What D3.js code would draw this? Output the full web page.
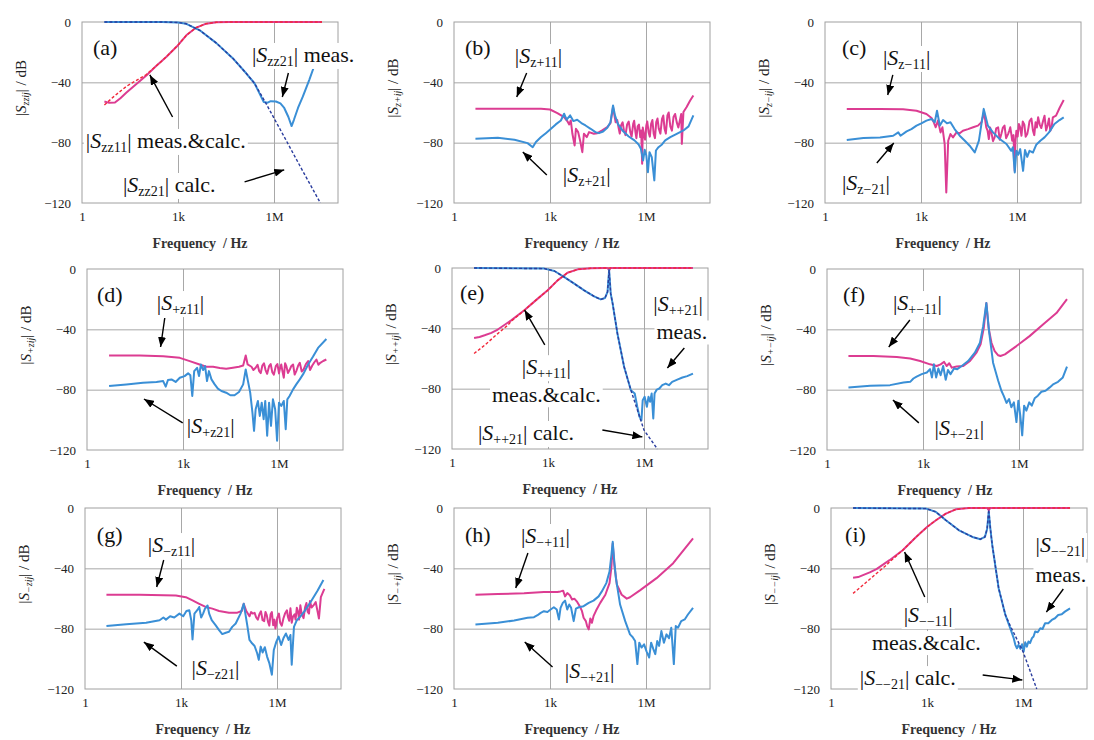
<!DOCTYPE html>
<html>
<head>
<meta charset="utf-8">
<script src="https://cdn.jsdelivr.net/npm/d3@7"></script>
<style>
body { margin: 0; background: #fff; }
svg, svg text { font-family: "Liberation Serif", "Times New Roman", Times, "DejaVu Serif", serif; }
text { white-space: pre; }
</style>
</head>
<body>
<div id="c"></div>
<script>
"use strict";

const serif = '"Liberation Serif", "Times New Roman", Times, "DejaVu Serif", serif'

// axis values
const xTickVals = [1, 1e3, 1e6]
const xTickText = ['1', '1k', '1M']
const yTickVals = [0, -40, -80, -120]
const xGridVals = [1e3, 1e6]
const yGridVals = [-40, -80]

// series: [log10(f / Hz), dB]
// (a)
const aS11meas = [[0.70,-52.7],[0.85,-53.6],[1.03,-53.4],[1.2,-50.5],[1.39,-46.8],[1.6,-43],[2.01,-35.5],[2.3,-29.5],[2.64,-23],[3.0,-15.4],[3.26,-8.8],[3.57,-3.7],[3.88,-1.1],[4.2,-0.2],[4.6,0],[7.5,0]]
const aS11calc = [[0.70,-55],[1.0,-49.3],[1.4,-42.5],[2.0,-35],[2.3,-29.5],[2.64,-23],[3.0,-15.4],[3.26,-8.8],[3.57,-3.7],[3.88,-1.1],[4.2,-0.2],[4.6,0],[7.5,0]]
const aS21meas = [[0.7,0],[2.5,0],[3.0,-0.3],[3.26,-1.2],[3.68,-5.5],[4.2,-14],[4.71,-24],[5.13,-34],[5.39,-40.6],[5.55,-47.5],[5.68,-53],[5.8,-53.5],[5.9,-52.5],[6.06,-52.7],[6.2,-54],[6.32,-57],[6.45,-63],[6.55,-69],[6.62,-65],[6.75,-57],[6.9,-49.5],[7.1,-38.5],[7.26,-29]]
const aS21calc = [[0.7,0],[2.5,0],[3.0,-0.3],[3.26,-1.2],[3.68,-5.5],[4.2,-14],[4.71,-24],[5.13,-34],[5.39,-40.6],[5.75,-54],[6.38,-78.5],[6.8,-95],[7.45,-120]]
// (b)
const bS11 = [[0.67,-57.5],[1.89,-57.5],[2.72,-57.5],[3.0,-58],[3.23,-60.4],[3.44,-63],[3.54,-65.7],[3.6,-67.9],[3.65,-65.3],[3.7,-74.1],[3.77,-81.9],[3.81,-70.8],[3.88,-73],[3.94,-78.5],[4.01,-86.3],[4.06,-74.1],[4.15,-76.3],[4.22,-73],[4.37,-74.1],[4.48,-73.7],[4.63,-71.9],[4.79,-69.7],[4.89,-67],[4.97,-56.4],[5.05,-66.4],[5.1,-65],[5.15,-70.8],[5.18,-74],[5.22,-68.6],[5.27,-66.5],[5.31,-71.9],[5.36,-75],[5.41,-67.9],[5.46,-66],[5.51,-73],[5.55,-76],[5.6,-67.5],[5.63,-65.5],[5.67,-73],[5.7,-77],[5.74,-69.2],[5.78,-68],[5.82,-76.3],[5.85,-72],[5.88,-94],[5.9,-70],[5.93,-74.1],[5.97,-78],[6.01,-68.6],[6.04,-66],[6.08,-73],[6.12,-76],[6.16,-67.5],[6.2,-65],[6.24,-74.1],[6.28,-77],[6.32,-66.4],[6.36,-64],[6.4,-70.8],[6.45,-74],[6.5,-64.2],[6.54,-62],[6.58,-70.8],[6.62,-74],[6.67,-61.9],[6.71,-60],[6.76,-69.2],[6.81,-72],[6.86,-63],[6.91,-61],[6.96,-66.4],[7.01,-70],[7.07,-64.2],[7.1,-61],[7.12,-80.8],[7.17,-59.7],[7.27,-56.4],[7.38,-52],[7.48,-48.7]]
const bS21 = [[0.67,-77.4],[1.37,-76.8],[1.89,-78.1],[2.3,-80.3],[2.46,-83],[2.56,-79.6],[2.72,-76.3],[2.87,-73.7],[3.03,-70.8],[3.18,-67.9],[3.34,-65.3],[3.44,-60.8],[3.52,-64.8],[3.63,-61.9],[3.73,-65.7],[3.85,-64.8],[3.98,-67],[4.11,-68.6],[4.27,-70.8],[4.42,-73],[4.53,-73.7],[4.66,-72.6],[4.79,-70.1],[4.89,-66.4],[4.97,-55.3],[5.03,-61.9],[5.12,-67.5],[5.28,-72.3],[5.46,-75.9],[5.64,-78.5],[5.77,-81.2],[5.84,-84],[5.91,-91.8],[5.96,-84.7],[6.01,-88.5],[6.06,-99.6],[6.11,-86.3],[6.18,-89.6],[6.26,-105],[6.31,-85.2],[6.39,-83],[6.5,-81.2],[6.6,-78.5],[6.76,-76.3],[6.96,-74.1],[7.17,-71.9],[7.33,-69.2],[7.48,-61.9]]
// (c)
const cS11 = [[0.68,-57.6],[1.72,-57.6],[2.44,-57.9],[2.86,-58.8],[3.17,-61],[3.33,-63.6],[3.4,-66.5],[3.46,-69.8],[3.53,-65.4],[3.61,-73.2],[3.67,-69.8],[3.74,-80.9],[3.79,-113],[3.85,-78.7],[3.92,-74.3],[4.0,-76.5],[4.11,-73.2],[4.21,-73.8],[4.31,-72.1],[4.47,-71],[4.63,-69.8],[4.78,-68.7],[4.89,-66.5],[4.97,-59.9],[5.04,-69.8],[5.08,-72],[5.12,-77.6],[5.16,-70],[5.2,-73.2],[5.25,-79],[5.3,-76.5],[5.35,-70.5],[5.41,-69.8],[5.46,-78],[5.51,-74.3],[5.56,-70],[5.61,-68.7],[5.66,-77],[5.72,-74.3],[5.76,-72],[5.79,-69.8],[5.82,-74],[5.85,-78.7],[5.89,-75],[5.93,-98.7],[5.95,-80],[5.98,-72.1],[6.02,-76],[6.06,-67.6],[6.1,-70],[6.14,-75.4],[6.18,-66],[6.23,-68.1],[6.27,-76],[6.32,-74.3],[6.36,-70],[6.39,-65.9],[6.45,-64],[6.5,-72.1],[6.54,-75],[6.58,-66.5],[6.62,-70],[6.66,-63.2],[6.71,-68],[6.76,-70.3],[6.81,-66],[6.86,-62.1],[6.91,-72],[6.96,-68.1],[7.0,-64],[7.04,-72.1],[7.08,-70],[7.12,-63.2],[7.22,-62.1],[7.33,-57],[7.46,-51.7]]
const cS21 = [[0.68,-78.3],[1.2,-76.9],[1.72,-76.5],[2.13,-75.4],[2.29,-73.2],[2.36,-75.4],[2.55,-72.5],[2.7,-71],[2.86,-68.7],[3.01,-67.2],[3.17,-65.4],[3.33,-64.3],[3.43,-66.5],[3.5,-58.8],[3.59,-68.7],[3.69,-65],[3.81,-67.2],[3.92,-66.5],[4.05,-71],[4.21,-75.4],[4.37,-78.7],[4.52,-82],[4.68,-86.5],[4.81,-78.7],[4.96,-57.6],[5.09,-68.7],[5.25,-73.2],[5.46,-77.6],[5.67,-80.9],[5.82,-85.4],[5.87,-83.1],[5.93,-99.8],[5.98,-85.4],[6.04,-88],[6.1,-84.3],[6.19,-98.7],[6.25,-84.9],[6.32,-89.4],[6.39,-85.4],[6.5,-86.5],[6.6,-81.4],[6.73,-78.7],[6.86,-76.5],[7.0,-73.2],[7.17,-67.6],[7.33,-65],[7.46,-63.2]]
// (d)
const dS11 = [[0.69,-57.4],[1.65,-57.4],[2.38,-57.8],[2.9,-58.9],[3.21,-61.1],[3.52,-63.3],[3.73,-64.8],[3.94,-64.8],[4.15,-65.7],[4.35,-66.2],[4.56,-65.5],[4.75,-64.8],[4.88,-64],[4.96,-57.4],[5.02,-63.3],[5.14,-64.8],[5.2,-67],[5.27,-65.5],[5.33,-63.5],[5.38,-67.7],[5.43,-69],[5.48,-64],[5.53,-62.5],[5.58,-67],[5.63,-69.5],[5.69,-64.4],[5.74,-63],[5.79,-68.4],[5.84,-70],[5.9,-64.4],[5.95,-63],[6.0,-69.2],[6.03,-66],[6.07,-63.3],[6.11,-68],[6.15,-72.1],[6.19,-62.5],[6.23,-64.4],[6.28,-69],[6.33,-67],[6.38,-64.5],[6.44,-63.3],[6.49,-70],[6.54,-67.7],[6.6,-64],[6.65,-62.2],[6.71,-68],[6.77,-66.6],[6.84,-63],[6.91,-61.1],[6.97,-67],[7.04,-64],[7.1,-62],[7.17,-60],[7.23,-63.5],[7.29,-62.2],[7.38,-61],[7.48,-60]]
const dS21 = [[0.69,-77.6],[1.23,-76.5],[1.75,-75.4],[2.17,-74.9],[2.38,-74.3],[2.46,-78],[2.53,-73.6],[2.64,-73.2],[2.77,-74.9],[2.9,-72.1],[3.05,-71],[3.16,-69.2],[3.23,-70.5],[3.29,-84.2],[3.35,-67.7],[3.44,-65.5],[3.5,-71],[3.56,-63.3],[3.63,-67],[3.69,-64.4],[3.75,-74.3],[3.81,-67.7],[3.89,-73.2],[3.99,-76.5],[4.09,-79.3],[4.2,-80.9],[4.35,-82],[4.48,-83.7],[4.61,-83.7],[4.75,-81.5],[4.88,-76.5],[4.96,-66.6],[5.03,-74.3],[5.1,-82],[5.17,-95.2],[5.22,-107.3],[5.27,-93],[5.34,-87.5],[5.4,-97.4],[5.46,-88.6],[5.52,-99.6],[5.57,-87.5],[5.63,-110.5],[5.69,-88.6],[5.75,-104],[5.81,-86.4],[5.88,-93],[5.94,-113.8],[6.0,-88.6],[6.07,-90.8],[6.15,-87.5],[6.21,-106.2],[6.26,-86.4],[6.33,-84.2],[6.44,-79.8],[6.54,-76.5],[6.65,-73.2],[6.77,-69.2],[6.91,-63.3],[7.06,-58.2],[7.22,-52.3],[7.48,-46.4]]
// (e)
const eS11meas = [[0.69,-46.4],[0.86,-45.7],[1.02,-44.6],[1.23,-43],[1.43,-40.8],[1.85,-34.7],[2.26,-28],[2.68,-20.3],[2.99,-14.8],[3.3,-8.2],[3.61,-3.1],[3.93,-0.9],[4.34,-0.2],[4.76,0],[4.86,0],[4.91,-1.5],[4.96,0],[7.53,0]]
const eS11calc = [[0.69,-56.7],[1.02,-51.2],[1.43,-43.5],[1.74,-38],[1.85,-35.3],[2.26,-28],[2.68,-20.3],[2.99,-14.8],[3.3,-8.2],[3.61,-3.1],[3.93,-0.9],[4.34,-0.2],[4.76,0],[7.53,0]]
const eS21meas = [[0.69,0],[2.89,-0.4],[3.2,-2],[3.51,-6],[3.82,-10.4],[4.13,-14.8],[4.44,-18.8],[4.65,-20.8],[4.78,-19.9],[4.86,-15.9],[4.91,-1.5],[4.96,-17],[5.02,-23.6],[5.17,-43.5],[5.38,-65.6],[5.59,-81],[5.71,-83.2],[5.79,-92],[5.86,-98.7],[5.92,-100.9],[5.96,-87.6],[6.02,-85.4],[6.09,-92],[6.14,-85.4],[6.19,-88.7],[6.24,-83.2],[6.29,-99.8],[6.33,-83.2],[6.4,-80.6],[6.48,-79.9],[6.57,-77.7],[6.68,-76.6],[6.78,-77.7],[6.88,-75.5],[7.04,-74],[7.2,-72.6],[7.35,-71.7],[7.53,-70]]
const eS21calc = [[0.69,0],[2.89,-0.4],[3.2,-2],[3.51,-6],[3.82,-10.4],[4.13,-14.8],[4.44,-18.8],[4.65,-20.8],[4.78,-19.9],[4.86,-15.9],[4.91,-1.5],[4.96,-17],[5.02,-23.6],[5.17,-43.5],[5.38,-65.6],[5.59,-81],[6.0,-107.5],[6.42,-120]]
// (f)
const fS11 = [[0.67,-57.7],[1.45,-57.7],[2.18,-58.3],[2.6,-59.4],[2.91,-61],[3.22,-63.2],[3.43,-64.3],[3.55,-63.2],[3.66,-61.6],[3.74,-64.3],[3.82,-62.5],[3.9,-65.4],[4.05,-64.7],[4.26,-64.3],[4.47,-61],[4.67,-55.5],[4.8,-50],[4.9,-39],[4.98,-22.6],[5.05,-39],[5.14,-48.9],[5.24,-54.4],[5.35,-57.2],[5.42,-57.7],[5.56,-56.6],[5.92,-51.1],[6.33,-44.5],[6.75,-36.8],[7.17,-29.2],[7.5,-20]]
const fS21 = [[0.67,-78.5],[1.35,-77.4],[1.97,-77],[2.39,-75.2],[2.6,-74.8],[2.7,-72.6],[2.8,-71.3],[2.96,-69.7],[3.12,-68.6],[3.22,-66.4],[3.28,-71.9],[3.34,-63.2],[3.41,-71.9],[3.48,-66],[3.55,-70.4],[3.63,-64.3],[3.71,-73.5],[3.78,-66.9],[3.86,-69.7],[3.97,-66],[4.07,-66.4],[4.21,-64.3],[4.41,-61],[4.62,-55.5],[4.78,-48.9],[4.88,-37.9],[4.98,-22.6],[5.07,-42.3],[5.19,-62.1],[5.35,-74.1],[5.45,-80.7],[5.52,-84],[5.61,-88.8],[5.69,-86.2],[5.76,-91.7],[5.84,-88.4],[5.92,-101.5],[5.98,-87.3],[6.04,-97.1],[6.1,-110.3],[6.16,-90.6],[6.23,-93.9],[6.32,-88.4],[6.4,-90.6],[6.49,-85.7],[6.59,-84],[6.7,-81.4],[6.83,-80.7],[6.96,-78.5],[7.08,-76.3],[7.22,-74.8],[7.37,-71.9],[7.5,-64.7]]
// (g)
const gS11 = [[0.67,-57.5],[1.71,-57.5],[2.84,-58],[3.15,-59.1],[3.36,-61.3],[3.57,-63.5],[3.77,-65.6],[3.98,-66.7],[4.19,-68.3],[4.5,-69.4],[4.76,-69.4],[4.9,-68.3],[4.96,-63.5],[5.04,-68.3],[5.14,-71.8],[5.19,-69],[5.24,-70],[5.3,-69.5],[5.35,-72.6],[5.4,-74],[5.45,-70.5],[5.5,-68.5],[5.55,-74.4],[5.6,-75],[5.64,-68.9],[5.68,-71],[5.72,-75.5],[5.76,-78],[5.8,-70.5],[5.84,-69],[5.88,-77.7],[5.92,-74],[5.95,-79.9],[5.98,-77],[6.01,-72.6],[6.06,-70],[6.1,-76.1],[6.15,-78],[6.2,-73.3],[6.25,-70],[6.31,-67.8],[6.34,-72],[6.38,-74.8],[6.42,-66.5],[6.46,-76.1],[6.5,-72],[6.55,-70.5],[6.58,-74],[6.62,-66.1],[6.66,-69],[6.69,-74],[6.73,-64.5],[6.77,-70],[6.83,-73],[6.88,-65.6],[6.92,-63],[6.96,-68.9],[7.0,-70],[7.03,-61.7],[7.08,-66],[7.14,-64.6],[7.21,-62.4],[7.27,-68.9],[7.31,-73.3],[7.37,-59.1],[7.48,-53.6]]
const gS21 = [[0.67,-78.3],[1.29,-77],[1.91,-76.1],[2.33,-74.4],[2.45,-72.6],[2.53,-74],[2.66,-71.8],[2.79,-72.6],[2.95,-70],[3.07,-71.8],[3.17,-68.3],[3.26,-67.8],[3.32,-74.4],[3.36,-87.1],[3.42,-70],[3.52,-67.4],[3.57,-65.6],[3.63,-72.6],[3.69,-70],[3.75,-66.7],[3.83,-64.6],[3.88,-70],[3.96,-74.4],[4.08,-77.7],[4.19,-81],[4.29,-83.6],[4.4,-82.7],[4.5,-82.1],[4.6,-78.8],[4.71,-76.6],[4.86,-70],[4.96,-63.5],[5.07,-77.7],[5.14,-87.5],[5.22,-89.7],[5.3,-91.5],[5.38,-96.3],[5.43,-100.7],[5.49,-91.9],[5.55,-95.8],[5.62,-92.3],[5.69,-98.5],[5.76,-102.8],[5.84,-110.5],[5.9,-94.1],[5.98,-88.6],[6.05,-85.3],[6.13,-90.8],[6.2,-86.4],[6.28,-83.2],[6.36,-87.5],[6.42,-84.2],[6.46,-103.9],[6.53,-78.8],[6.62,-74.4],[6.72,-72.2],[6.88,-67.8],[7.08,-61.3],[7.27,-54.7],[7.45,-47.7]]
// (h)
const hS11 = [[0.67,-57.5],[1.37,-57],[2.19,-56.6],[2.81,-55.7],[3.23,-55.7],[3.33,-55.3],[3.41,-54.8],[3.47,-58.6],[3.54,-56.4],[3.62,-57.9],[3.69,-60.7],[3.76,-60.1],[3.85,-62.3],[3.93,-65.1],[4.0,-68.4],[4.05,-72.8],[4.12,-75],[4.16,-78.3],[4.21,-80.5],[4.26,-73.2],[4.31,-76.1],[4.36,-71.7],[4.44,-68],[4.57,-62.9],[4.73,-57.5],[4.86,-49.8],[4.92,-38.8],[4.96,-23.5],[5.01,-37.7],[5.09,-50.9],[5.24,-57.5],[5.4,-60.1],[5.5,-59.2],[5.81,-54.6],[6.33,-46.5],[6.85,-36.6],[7.47,-20.2]]
const hS21 = [[0.67,-77.2],[1.37,-76.1],[1.88,-74.6],[2.3,-72.8],[2.5,-72.4],[2.61,-71.1],[2.71,-69.5],[2.81,-68.4],[2.92,-68.9],[3.02,-67.3],[3.12,-65.8],[3.21,-67.3],[3.28,-73.9],[3.33,-66.2],[3.4,-62.9],[3.47,-61.4],[3.54,-67.3],[3.6,-64],[3.66,-66.2],[3.74,-75],[3.81,-66.7],[3.9,-65.8],[4.05,-65.1],[4.21,-62.9],[4.36,-61.4],[4.52,-58.6],[4.62,-55.3],[4.76,-49.8],[4.86,-42.1],[4.92,-31.1],[4.96,-22.4],[5.01,-35.5],[5.06,-46.5],[5.19,-64],[5.35,-75],[5.5,-83.8],[5.58,-85.5],[5.66,-88.2],[5.73,-103.5],[5.79,-89.3],[5.86,-92.5],[5.94,-90.4],[6.02,-95.2],[6.1,-99.1],[6.16,-89.3],[6.23,-93.6],[6.29,-96.9],[6.35,-88.2],[6.41,-91.4],[6.48,-81.6],[6.56,-89.3],[6.64,-83.8],[6.72,-86.4],[6.79,-79.4],[6.87,-103.5],[6.93,-78.3],[7.0,-79.4],[7.1,-75],[7.21,-73.9],[7.31,-70.6],[7.47,-66.2]]
// (i)
const iS11meas = [[0.69,-46.3],[0.85,-45.8],[1.0,-44.5],[1.21,-42.7],[1.42,-40.5],[1.83,-34.6],[2.24,-28],[2.66,-19.2],[3.0,-12.6],[3.28,-8.1],[3.59,-3.7],[3.9,-0.9],[4.31,0],[4.88,0],[4.93,-1.5],[4.98,0],[7.47,0]]
const iS11calc = [[0.69,-56.6],[1.0,-51.1],[1.42,-43.4],[1.73,-37.9],[1.83,-35.7],[2.24,-28],[2.66,-19.2],[3.0,-12.6],[3.28,-8.1],[3.59,-3.7],[3.9,-0.9],[4.31,0],[7.47,0]]
const iS21meas = [[0.69,0],[2.97,-0.4],[3.28,-2.6],[3.59,-8.1],[4.0,-14.8],[4.42,-19.2],[4.67,-20.7],[4.81,-19.2],[4.88,-13.7],[4.93,-2.6],[4.98,-13.7],[5.04,-24.7],[5.24,-53.3],[5.45,-70.9],[5.6,-79.7],[5.71,-86.3],[5.76,-90.7],[5.81,-93],[5.86,-90.7],[5.92,-93.4],[5.97,-90.3],[6.02,-95.2],[6.07,-89],[6.12,-91.9],[6.17,-88.5],[6.22,-89.6],[6.28,-86.3],[6.33,-85.2],[6.38,-81.9],[6.46,-82.4],[6.54,-79.7],[6.61,-80.2],[6.69,-76.4],[6.79,-76.4],[6.9,-74.2],[7.0,-73.1],[7.1,-70.9],[7.21,-70.5],[7.31,-68.7],[7.47,-66.5]]
const iS21calc = [[0.69,0],[2.97,-0.4],[3.28,-2.6],[3.59,-8.1],[4.0,-14.8],[4.42,-19.2],[4.67,-20.7],[4.81,-19.2],[4.88,-13.7],[4.93,-1],[4.98,-13.7],[5.04,-24.7],[5.24,-53.3],[5.45,-70.9],[5.6,-78],[6.0,-95.2],[6.43,-120]]

const styles = {
    pink: {stroke: '#dc3c92', width: 2, dash: null},
    blue: {stroke: '#3a8fd6', width: 2, dash: null},
    red:  {stroke: '#f2283a', width: 1.4, dash: '3,2'},
    navy: {stroke: '#2b3d9e', width: 1.4, dash: '3,2'}
}

const panels = [
    {left: 82, top: 22, ysub: 'zzij',
     lines: [[aS11meas,'pink'],[aS21meas,'blue'],[aS11calc,'red'],[aS21calc,'navy']],
     labels: [{at:[0.34,-21.9], text:'(a)'},
              {at:[5.31,-26.5], sub:'zz21', tail:' meas.'},
              {at:[0.12,-83.5], sub:'zz11', tail:' meas.&calc.'},
              {at:[1.28,-112.7], sub:'zz21', tail:' calc.'}],
     arrows: [[[6.45,-33.8],[6.26,-49.7]],[[2.83,-63],[2.12,-35.1]],[[5.08,-106],[6.32,-98]]]},
    {left: 454, top: 22, ysub: 'z+ij',
     lines: [[bS11,'pink'],[bS21,'blue']],
     labels: [{at:[0.34,-21.9], text:'(b)'},
              {at:[1.9,-27.2], sub:'z+11'},
              {at:[3.4,-106], sub:'z+21'}],
     arrows: [[[2.27,-33.8],[1.96,-49.7]],[[2.9,-101.5],[2.15,-86.2]]]},
    {left: 825, top: 22, ysub: 'z\u2212ij',
     lines: [[cS11,'pink'],[cS21,'blue']],
     labels: [{at:[0.53,-21.9], text:'(c)'},
              {at:[1.81,-28.5], sub:'z\u221211'},
              {at:[0.53,-111.4], sub:'z\u221221'}],
     arrows: [[[2.12,-35.1],[1.96,-48.4]],[[1.62,-93.5],[2.15,-80.2]]]},
    {left: 87, top: 269, ysub: '+zij',
     lines: [[dS11,'pink'],[dS21,'blue']],
     labels: [{at:[0.31,-21.9], text:'(d)'},
              {at:[2.18,-27.2], sub:'+z11'},
              {at:[3.12,-108.8], sub:'+z21'}],
     arrows: [[[2.43,-32.5],[2.3,-51.7]],[[2.99,-102],[1.78,-86.2]]]},
    {left: 452, top: 268, ysub: '++ij',
     lines: [[eS11meas,'pink'],[eS21meas,'blue'],[eS11calc,'red'],[eS21calc,'navy']],
     labels: [{at:[0.25,-21.2], text:'(e)'},
              {at:[6.29,-28.4], sub:'++21'},
              {at:[6.39,-47.4], text:'meas.'},
              {at:[2.18,-70.4], sub:'++11'},
              {at:[1.25,-89], text:'meas.&calc.'},
              {at:[0.81,-114], sub:'++21', tail:' calc.'}],
     arrows: [[[7.26,-53],[6.73,-66.3]],[[2.9,-51],[2.27,-27.9]],[[4.7,-107.4],[5.95,-112]]]},
    {left: 827, top: 269, ysub: '+\u2212ij',
     lines: [[fS11,'pink'],[fS21,'blue']],
     labels: [{at:[0.5,-21.9], text:'(f)'},
              {at:[2.06,-27.2], sub:'+\u221211'},
              {at:[3.36,-110], sub:'+\u221221'}],
     arrows: [[[2.59,-33.8],[1.93,-51.7]],[[2.87,-102],[2.06,-86.9]]]},
    {left: 85, top: 508, ysub: '\u2212zij',
     lines: [[gS11,'pink'],[gS21,'blue']],
     labels: [{at:[0.37,-22.5], text:'(g)'},
              {at:[1.96,-29.2], sub:'\u2212z11'},
              {at:[3.33,-110.7], sub:'\u2212z21'}],
     arrows: [[[2.46,-34.5],[2.24,-52.4]],[[2.87,-104.8],[1.84,-88.9]]]},
    {left: 454, top: 508, ysub: '\u2212+ij',
     lines: [[hS11,'pink'],[hS21,'blue']],
     labels: [{at:[0.34,-22.5], text:'(h)'},
              {at:[2.09,-23.2], sub:'\u2212+11'},
              {at:[3.46,-112.7], sub:'\u2212+21'}],
     arrows: [[[2.31,-29.8],[1.93,-53]],[[3.08,-105.4],[2.21,-88.9]]]},
    {left: 831, top: 508, ysub: '\u2212\u2212ij',
     lines: [[iS11meas,'pink'],[iS21meas,'blue'],[iS11calc,'red'],[iS21calc,'navy']],
     labels: [{at:[0.44,-22.5], text:'(i)'},
              {at:[6.39,-29.2], sub:'\u2212\u221221'},
              {at:[6.39,-48.8], text:'meas.'},
              {at:[2.27,-75.6], sub:'\u2212\u221211'},
              {at:[1.28,-94.2], text:'meas.&calc.'},
              {at:[0.9,-117.4], sub:'\u2212\u221221', tail:' calc.'}],
     arrows: [[[7.26,-53.7],[6.73,-69]],[[2.93,-59],[2.3,-29.2]],[[4.74,-110.7],[5.98,-114]]]}
]

const plotW = 256
const plotH = 181

let svg = d3.select('#c').append('svg')
    .attr('width', 1094).attr('height', 740)
    .attr('font-family', serif)

svg.append('defs').append('marker')
    .attr('id', 'arrow')
    .attr('markerUnits', 'userSpaceOnUse')
    .attr('markerWidth', 10).attr('markerHeight', 8)
    .attr('refX', 10).attr('refY', 4)
    .attr('orient', 'auto')
  .append('path')
    .attr('d', 'M0,0 L10,4 L0,8 Z')
    .attr('fill', '#000')

panels.forEach((p, k) => drawPanel(p, k))

function drawPanel(p, k) {
    const xScale = d3.scaleLog().domain([1, 1e8]).range([p.left, p.left + plotW])
    const yScale = d3.scaleLinear().domain([-120, 0]).range([p.top + plotH, p.top])
    const g = svg.append('g')

    // grid
    g.append('g')
        .attr('transform', 'translate(0,' + (p.top + plotH) + ')')
        .call(d3.axisBottom(xScale).tickValues(xGridVals).tickSize(-plotH).tickFormat(''))
        .call(a => a.select('.domain').remove())
        .call(a => a.selectAll('line').attr('stroke', '#a8a8a8'))
    g.append('g')
        .attr('transform', 'translate(' + p.left + ',0)')
        .call(d3.axisLeft(yScale).tickValues(yGridVals).tickSize(-plotW).tickFormat(''))
        .call(a => a.select('.domain').remove())
        .call(a => a.selectAll('line').attr('stroke', '#a8a8a8'))
    g.append('rect')
        .attr('x', p.left).attr('y', p.top)
        .attr('width', plotW).attr('height', plotH)
        .attr('fill', 'none').attr('stroke', '#a0a0a0')

    // tick labels
    g.append('g')
        .attr('transform', 'translate(0,' + (p.top + plotH) + ')')
        .attr('font-family', serif)
        .call(d3.axisBottom(xScale).tickValues(xTickVals).tickSize(0).tickPadding(9)
            .tickFormat((d, i) => xTickText[i]))
        .call(a => a.attr('font-family', serif).select('.domain').remove())
        .call(a => a.selectAll('text').attr('font-size', 13).attr('fill', '#222'))
    g.append('g')
        .attr('transform', 'translate(' + p.left + ',0)')
        .call(d3.axisLeft(yScale).tickValues(yTickVals).tickSize(0).tickPadding(11))
        .call(a => a.attr('font-family', serif).select('.domain').remove())
        .call(a => a.selectAll('text').attr('font-size', 13).attr('fill', '#222'))

    // axis titles
    g.append('text')
        .attr('x', p.left + plotW / 2 - 10).attr('y', p.top + plotH + 45)
        .attr('text-anchor', 'middle')
        .attr('font-size', 14).attr('font-weight', 'bold').attr('fill', '#333')
        .text('Frequency\u00a0 / Hz')
    let yt = g.append('text')
        .attr('transform', 'translate(' + (p.left - 56) + ',' + (p.top + 66) + ') rotate(-90)')
        .attr('text-anchor', 'middle')
        .attr('font-size', 15).attr('fill', '#222')
    yt.append('tspan').text('|')
    yt.append('tspan').attr('font-style', 'italic').text('S')
    yt.append('tspan').attr('font-style', 'italic').attr('font-size', 10).attr('dy', 3).text(p.ysub)
    yt.append('tspan').attr('dy', -3).text('| / dB')

    // series
    const clipId = 'clip' + k
    g.append('clipPath').attr('id', clipId)
      .append('rect')
        .attr('x', p.left).attr('y', p.top - 2)
        .attr('width', plotW).attr('height', plotH + 4)
    const line = d3.line()
        .x(d => xScale(Math.pow(10, d[0])))
        .y(d => yScale(d[1]))
    p.lines.forEach(([data, st]) => {
        const s = styles[st]
        g.append('path')
            .datum(data)
            .attr('clip-path', 'url(#' + clipId + ')')
            .attr('fill', 'none')
            .attr('stroke', s.stroke)
            .attr('stroke-width', s.width)
            .attr('stroke-dasharray', s.dash)
            .attr('stroke-linejoin', 'round')
            .attr('d', line)
    })

    // labels with white boxes
    p.labels.forEach(lab => {
        let t = g.append('text')
            .attr('x', xScale(Math.pow(10, lab.at[0])))
            .attr('y', yScale(lab.at[1]))
            .attr('font-size', 22).attr('fill', '#111')
        if (lab.sub) {
            t.append('tspan').text('|')
            t.append('tspan').attr('font-style', 'italic').text('S')
            t.append('tspan').attr('font-size', 14).attr('dy', 4).text(lab.sub)
            t.append('tspan').attr('dy', -4).text('|' + (lab.tail || ''))
        } else {
            t.text(lab.text)
        }
        const b = t.node().getBBox()
        g.insert('rect', () => t.node())
            .attr('x', b.x - 2).attr('y', b.y + 1)
            .attr('width', b.width + 4).attr('height', b.height - 1)
            .attr('fill', '#fff')
    })

    // arrows
    p.arrows.forEach(([a, b]) => {
        g.append('line')
            .attr('x1', xScale(Math.pow(10, a[0]))).attr('y1', yScale(a[1]))
            .attr('x2', xScale(Math.pow(10, b[0]))).attr('y2', yScale(b[1]))
            .attr('stroke', '#000').attr('stroke-width', 1.4)
            .attr('marker-end', 'url(#arrow)')
    })
}
</script>
</body>
</html>
